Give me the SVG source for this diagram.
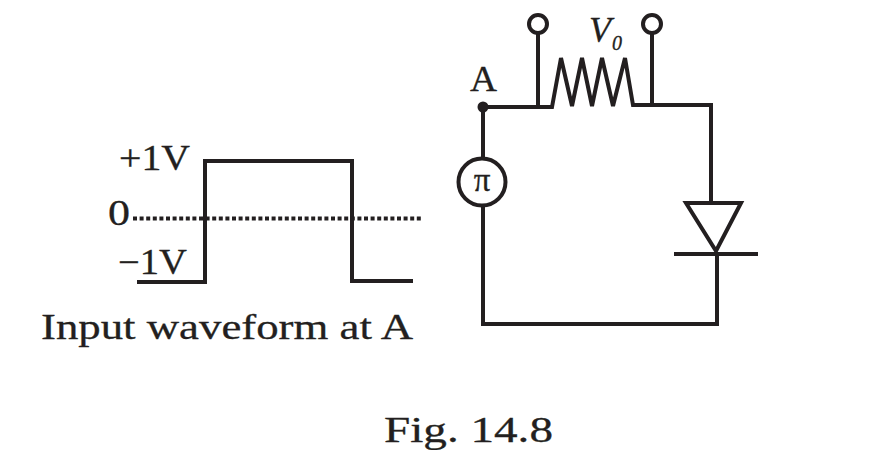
<svg xmlns="http://www.w3.org/2000/svg" width="890" height="450" viewBox="0 0 890 450">
<style>
.w{fill:none;stroke:#231f20;stroke-width:4}
.t{font-family:"Liberation Serif","DejaVu Serif",serif;fill:#231f20;stroke:#231f20;stroke-width:.3}
</style>
<rect width="890" height="450" fill="#fff"/>
<g id="connectors">
<path class="w" d="M137 282H205V161H352V281H413"/>
<path d="M133 218.500H421" fill="none" stroke="#231f20" stroke-width="4" stroke-dasharray="4 2.600"/>
<path class="w" d="M483 107V160M483 206V324H717V254M483 107H552L561 58L572 106L582 58L592 106L602 58L613 106L625 58L633 105H711V202"/>
<path class="w" d="M538 33V107M652 33V105"/>
</g>
<g id="terminal1"><circle class="w" cx="538" cy="24" r="9"/></g>
<g id="terminal2"><circle class="w" cx="652" cy="24" r="9"/></g>
<g id="nodeA"><circle cx="483" cy="107" r="5.500" fill="#231f20"/><text class="t" x="470" y="91" font-size="35" textLength="27" lengthAdjust="spacingAndGlyphs">A</text></g>
<g id="source"><circle class="w" cx="482" cy="182" r="23.500" fill="#fff"/><text class="t" x="482" y="191" font-size="33" text-anchor="middle">π</text></g>
<g id="diode"><path class="w" d="M686 203H741L716 251ZM674 254H758"/></g>
<g id="labels">
<text class="t" x="589" y="42" font-size="36" font-style="italic">V</text>
<text class="t" x="612" y="50" font-size="20" font-style="italic">0</text>
<text class="t" x="119" y="170" font-size="35" textLength="71" lengthAdjust="spacingAndGlyphs">+1V</text>
<text class="t" x="108" y="225" font-size="35" textLength="22" lengthAdjust="spacingAndGlyphs">0</text>
<text class="t" x="118" y="274" font-size="35" textLength="69" lengthAdjust="spacingAndGlyphs">−1V</text>
<text class="t" x="41" y="339" font-size="36" textLength="372" lengthAdjust="spacingAndGlyphs">Input waveform at A</text>
<text class="t" x="384" y="442" font-size="35" textLength="169" lengthAdjust="spacingAndGlyphs">Fig. 14.8</text>
</g>
</svg>
